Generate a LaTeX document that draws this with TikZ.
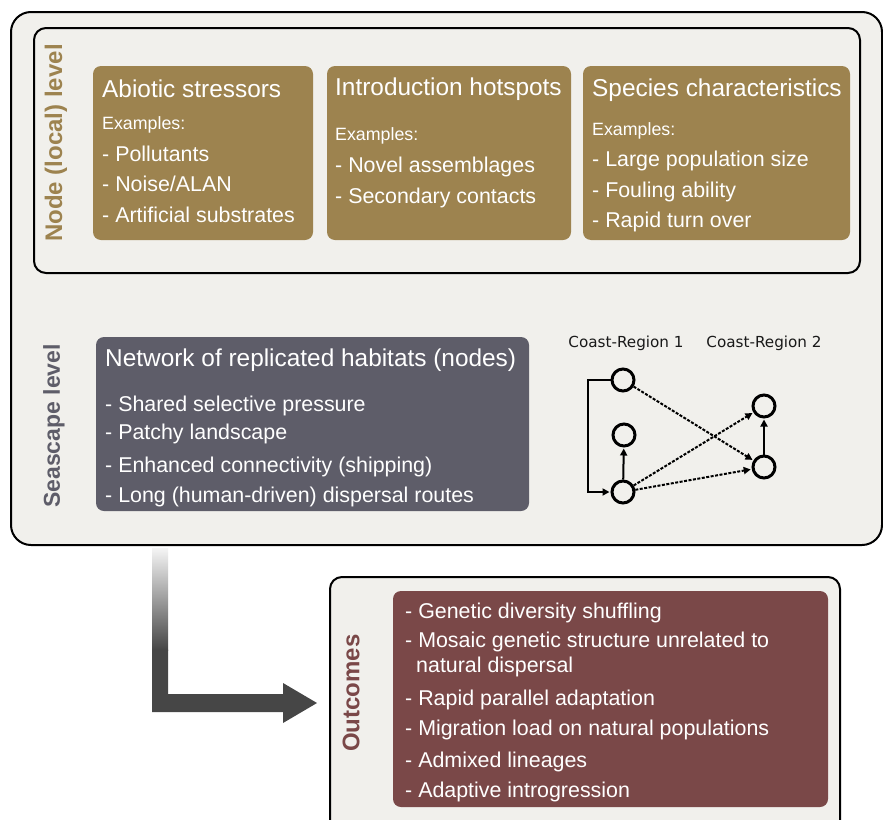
\documentclass[tikz,border=0pt]{standalone}
\usepackage{fontspec}
\setmainfont{Liberation Sans}
\newfontfamily\djv{DejaVu Sans}
\usetikzlibrary{arrows.meta}
\definecolor{bgc}{HTML}{F1F0EC}
\definecolor{ochre}{HTML}{9D834F}
\definecolor{slate}{HTML}{5E5D69}
\definecolor{wine}{HTML}{7A4848}
\definecolor{arrowc}{HTML}{464646}
\tikzset{
  panel/.style={draw=black, line width=2pt, fill=bgc},
  card/.style={rounded corners=8pt},
  ttl/.style={anchor=base west, text=white, inner sep=0pt, font=\fontsize{24.4}{28}\selectfont},
  ex/.style={anchor=base west, text=white, inner sep=0pt, font=\fontsize{17.8}{20}\selectfont},
  itm/.style={anchor=base west, text=white, inner sep=0pt, font=\fontsize{21.4}{25}\selectfont},
  vlabel/.style={rotate=90, inner sep=0pt, font=\bfseries\fontsize{24}{28}\selectfont},
  region/.style={inner sep=0pt, text=black!90, font=\djv\fontsize{15.2}{18}\selectfont},
  hab/.style={circle, draw=black, line width=3pt, minimum size=22pt, inner sep=0pt},
  flow/.style={line width=2pt, -{Triangle[length=7pt,width=7pt]}, shorten >=1pt},
  ship/.style={line width=2pt, dash pattern=on 3pt off 1.5pt, -{Triangle[length=7pt,width=7pt]}, shorten >=1pt}
}
\begin{document}
\begin{tikzpicture}[x=1pt,y=-1pt]
\path[use as bounding box] (0,0) rectangle (883,819);
\clip (0,0) rectangle (883,819);
\fill[white] (0,0) rectangle (883,819);

% outer panel
\draw[panel, rounded corners=20pt] (11,12) rectangle (882,545);
% node-level panel
\draw[line width=2pt, rounded corners=12pt] (34,28) rectangle (860,273);

\node[vlabel, text=ochre] (nodelevel) at (56,143) {Node (local) level};

% brown cards
\fill[ochre, card] (93,66) rectangle (313,240);
\fill[ochre, card] (327,66) rectangle (571,240);
\fill[ochre, card] (583,66) rectangle (850,240);

\node[ttl] (abt) at (102,97) {Abiotic stressors};
\node[ex] (abe) at (102,129) {Examples:};
\node[itm] (ab1) at (102,161) {- Pollutants};
\node[itm] (ab2) at (102,191.5) {- Noise/ALAN};
\node[itm] (ab3) at (102,222) {- Artificial substrates};

\node[ttl] (int) at (335,95) {Introduction hotspots};
\node[ex] (ine) at (335,140) {Examples:};
\node[itm] (in1) at (335,172) {- Novel assemblages};
\node[itm] (in2) at (335,203) {- Secondary contacts};

\node[ttl] (spt) at (592,96) {Species characteristics};
\node[ex] (spe) at (592,135) {Examples:};
\node[itm] (sp1) at (592,166) {- Large population size};
\node[itm] (sp2) at (592,197) {- Fouling ability};
\node[itm] (sp3) at (592,227) {- Rapid turn over};

% seascape
\node[vlabel, text=slate, font=\bfseries\fontsize{23}{27}\selectfont] (sealevel) at (54,426) {Seascape level};
\fill[slate, card] (96,337) rectangle (529,511);
\node[ttl] (nett) at (105,366) {Network of replicated habitats (nodes)};
\node[itm] (ne1) at (105,411) {- Shared selective pressure};
\node[itm] (ne2) at (105,439) {- Patchy landscape};
\node[itm] (ne3) at (105,472) {- Enhanced connectivity (shipping)};
\node[itm] (ne4) at (105,502) {- Long (human-driven) dispersal routes};

% network
\node[region] (cr1) at (626,343) {Coast-Region 1};
\node[region] (cr2) at (764,343) {Coast-Region 2};
\node[hab] (A) at (623,380) {};
\node[hab] (B) at (624,435) {};
\node[hab] (C) at (623,492) {};
\node[hab] (D) at (764,406) {};
\node[hab] (E) at (764,467) {};
\draw[flow] (A.west) -- ++(-23,0) |- (C.west);
\draw[flow] (C) -- (B);
\draw[flow] (E) -- (D);
\draw[ship] (A) -- (E);
\draw[ship] (C) -- (D);
\draw[ship] (C) -- (E);

% big arrow
\shade[top color=white!96!black, bottom color=arrowc] (152,548) rectangle (168,650);
\fill[arrowc] (152,649.5) -- (168,649.5) -- (168,694) -- (283,694) -- (283,683)
  -- (317,703) -- (283,723) -- (283,712) -- (152,712) -- cycle;

% outcomes
\draw[panel, rounded corners=12pt] (330,577) rectangle (840,850);
\node[vlabel, text=wine] (outl) at (351,693) {Outcomes};
\fill[wine, card] (393,591) rectangle (828,807);
\node[itm] (o1) at (405,618) {- Genetic diversity shuffling};
\node[itm] (o2) at (405,647) {- Mosaic genetic structure unrelated to};
\node[itm] (o2b) at (416,672) {natural dispersal};
\node[itm] (o3) at (405,705) {- Rapid parallel adaptation};
\node[itm] (o4) at (405,735) {- Migration load on natural populations};
\node[itm] (o5) at (405,767) {- Admixed lineages};
\node[itm] (o6) at (405,797) {- Adaptive introgression};
\end{tikzpicture}
\end{document}
